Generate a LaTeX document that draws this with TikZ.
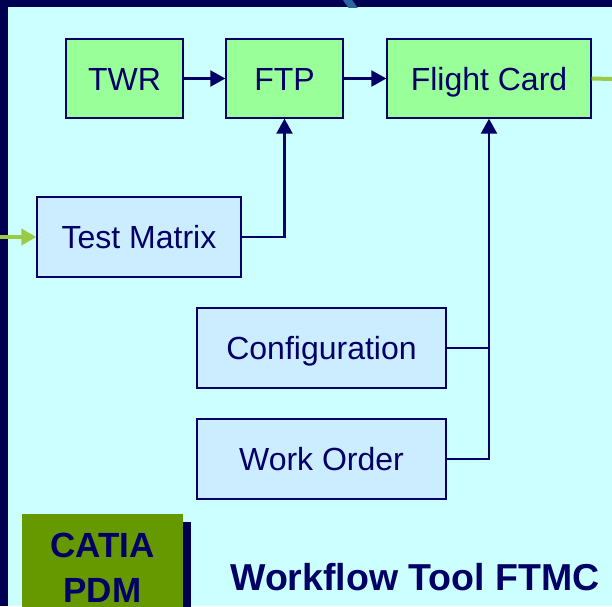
\documentclass[tikz,border=0pt]{standalone}
\usepackage{fontspec}
\setmainfont{Liberation Sans}
\usetikzlibrary{arrows.meta,calc}
\definecolor{wf01}{HTML}{000052}
\definecolor{wf02}{HTML}{000066}
\definecolor{wf03}{HTML}{CCFFFF}
\definecolor{wf04}{HTML}{99FF99}
\definecolor{wf05}{HTML}{CCECFF}
\definecolor{wf06}{HTML}{669900}
\definecolor{wf07}{HTML}{99CC44}
\definecolor{wf08}{HTML}{2D64A0}
\tikzset{
  wfbox/.style={rectangle, draw=wf02, line width=1.3pt, inner sep=0pt,
    minimum height=79pt, text=wf02, text height=23pt, text depth=0pt,
    font=\fontsize{32}{38}\selectfont},
  wfgreen/.style={wfbox, fill=wf04},
  wfblue/.style={wfbox, fill=wf05},
  wflink/.style={draw=wf02, line width=2.2pt},
  wfarrow/.style={wflink, -{Triangle[length=15pt,width=16pt]}},
  wffeed/.style={draw=wf07, line width=4pt},
}
\begin{document}
\begin{tikzpicture}[x=1pt,y=-1pt]
            \useasboundingbox (0,0) rectangle (612,606);
            \fill[wf01] (0,0) rectangle (612,606);
            \fill[wf03] (8,7) rectangle (612,606);
            \begin{scope}
              \clip (0,0) rectangle (612,7);
              \draw[wf08, line width=7.5pt] (346.1,-2) -- (356.1,12);
            \end{scope}
            \node[wfgreen, minimum width=117pt] (twr) at (124.5,78.5) {TWR};
            \node[wfgreen, minimum width=117pt] (ftp) at (284.5,78.5) {FTP};
            \node[wfgreen, minimum width=204pt] (card) at (489,78.5) {Flight Card};
            \node[wfblue, minimum width=204pt, minimum height=80pt] (matrix) at (139,237) {Test Matrix};
            \node[wfblue, minimum width=249pt, minimum height=80pt] (config) at (321.5,348) {Configuration};
            \node[wfblue, minimum width=249pt, minimum height=80pt] (order) at (321.5,459) {Work Order};
            \coordinate (entry) at (0,237);
            \coordinate (exit) at (612,79);
            %CATIA box with its shadow
            \fill[wf01] (191,522) rectangle (183,621);
            \node[rectangle, fill=wf06, inner sep=0pt, minimum width=161pt, minimum height=107pt,
                  align=center, text=wf02, font=\fontsize{35}{45}\bfseries\selectfont]
                  (catia) at (102.5,567.5) {CATIA\\PDM};
            \node[text=wf02, inner sep=0pt, font=\fontsize{37.5}{42}\bfseries\selectfont]
                  (title) at (415,577) {Workflow Tool FTMC};
            \draw[wfarrow] (twr) -- (ftp);
            \draw[wfarrow] (ftp) -- (card);
            \draw[wfarrow] (matrix.east) -| (ftp.south);
            \draw[wflink] (config.east) -- (config.east -| card.south);
            \draw[wfarrow] (order.east) -| (card.south);
            \draw[wffeed] (card.east) -- (exit);
            \draw[wffeed, -{Triangle[length=15pt,width=16pt]}] (entry) -- (matrix.west);
        \end{tikzpicture}
\end{document}
